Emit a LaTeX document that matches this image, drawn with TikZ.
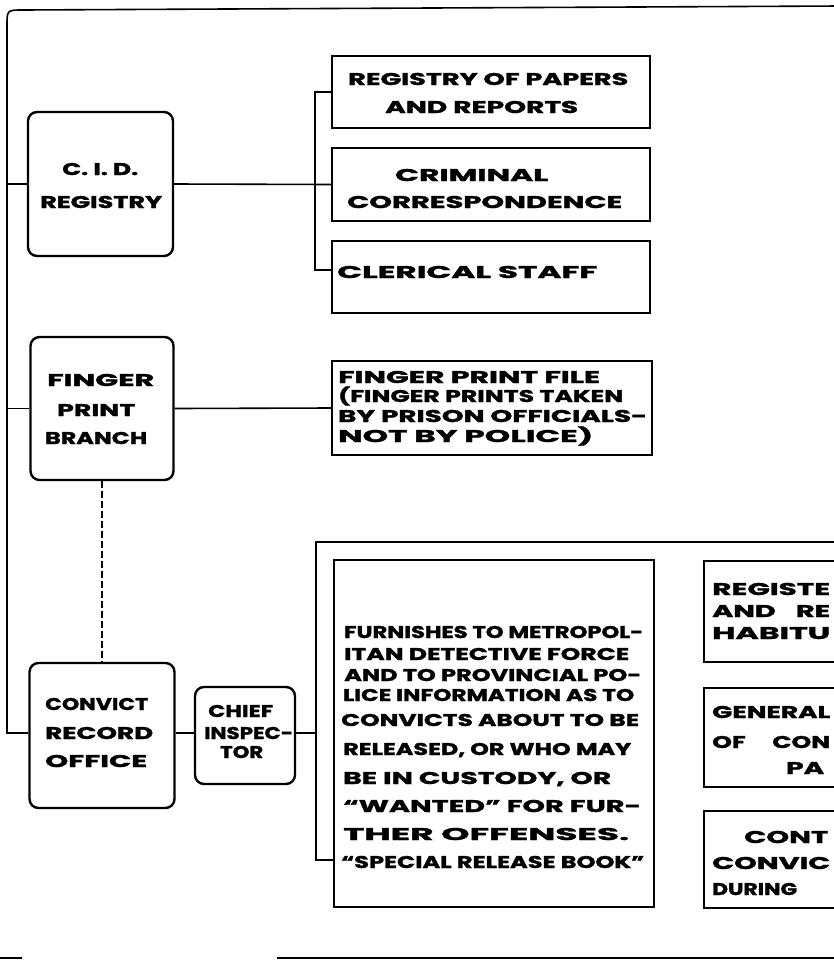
\documentclass[tikz,border=0pt]{standalone}
\usepackage{fontspec}
\setmainfont{Poppins}[BoldFeatures={FakeBold=1.4}]
\usepackage{graphicx}
\newcommand\stretchw[2]{\resizebox{#1pt}{\height}{#2}}
\newcommand\lettf{\bfseries\fontsize{17}{17}\selectfont}
\tikzset{
 rbox/.style={draw, line width=2.4pt, rounded corners=9pt, inner sep=0pt},
 sbox/.style={draw, line width=2pt, inner sep=0pt},
 conn/.style={line width=1.6pt},
 txt/.style={inner sep=0pt, anchor=base west, font=\lettf},
}
\newcommand\tx[5]{\node[txt] (#1) at (#2,#3+6) {\stretchw{#4}{#5}};}
\begin{document}
\begin{tikzpicture}[x=1pt,y=-1pt]
\useasboundingbox (0,0) rectangle (834,967);
\clip (0,0) rectangle (834,967);
\coordinate (L) at (7,0);
\coordinate (B) at (315,0);
\coordinate (F) at (316,542);

% left column boxes
\node[rbox, minimum width=145pt, minimum height=144pt] (cid) at (100.5,184) {};
\node[rbox, minimum width=143pt, minimum height=143pt] (fpb) at (102,408.5) {};
\node[rbox, minimum width=145pt, minimum height=145pt] (cv) at (102,735.5) {};
\node[rbox, minimum width=100pt, minimum height=97pt] (chief) at (245,735.5) {};

% middle column boxes
\node[sbox, minimum width=318pt, minimum height=72pt] (reg) at (491,92) {};
\node[sbox, minimum width=318pt, minimum height=73pt] (crim) at (491,184.5) {};
\node[sbox, minimum width=318pt, minimum height=72pt] (cler) at (491,277) {};
\node[sbox, minimum width=320pt, minimum height=94pt] (fpf) at (492,408) {};
\node[sbox, minimum width=320pt, minimum height=347pt] (furn) at (494,733.5) {};

% right column boxes (cut off at the edge)
\node[sbox, minimum width=160pt, minimum height=101pt, anchor=north west] (rr1) at (703,560) {};
\node[sbox, minimum width=160pt, minimum height=99pt, anchor=north west] (rr2) at (703,687) {};
\node[sbox, minimum width=160pt, minimum height=97pt, anchor=north west] (rr3) at (703,810) {};

% outer frame and left spine
\draw[conn] ([yshift=2.5pt]cv.west) -- ([yshift=2.5pt]cv.west -| L) -- (7,26) .. controls (7,10) .. (23,10) -- (840,6);
\draw[conn] (cid.west) -- (cid.west -| L);
\draw[conn] (fpb.west) -- (fpb.west -| L);

% CID branch
\draw[conn] (cid.east) -- (crim.west);
\draw[conn] (reg.west) -- (reg.west -| B) -- ([yshift=7pt]cler.west -| B) -- ([yshift=7pt]cler.west);

% finger print branch
\draw[conn] (fpb.east) -- (fpf.west);
\draw[conn, dash pattern=on 7pt off 3pt] (fpb.south) -- (cv.north);

% convict record office branch
\draw[conn] ([yshift=2.5pt]cv.east) -- ([yshift=2.5pt]chief.west);
\draw[conn] ([yshift=2.5pt]chief.east) -- ([yshift=2.5pt]chief.east -| F);
\draw[conn] (840,542) -- (F) -- ([yshift=-126.5pt]furn.west -| F) -- ([yshift=-126.5pt]furn.west);

% bottom lines
\draw[conn] (277,958) -- (840,958);
\draw[line width=1.2pt] (0,958) -- (22,958);

% texts
\tx{t01}{62}{169}{76}{C. I. D.}
\tx{t02}{40}{202}{122}{REGISTRY}
\tx{t03}{348}{79}{280}{REGISTRY OF PAPERS}
\tx{t04}{385}{107}{193}{AND REPORTS}
\tx{t05}{395}{175}{153}{CRIMINAL}
\tx{t06}{347}{202}{275}{CORRESPONDENCE}
\tx{t07}{337}{272}{260}{CLERICAL STAFF}

\tx{t08}{47}{380}{107}{FINGER}
\tx{t09}{57}{410}{78}{PRINT}
\tx{t10}{45}{438}{102}{BRANCH}
\tx{t11}{338}{377}{262}{FINGER PRINT FILE}
\tx{t12}{338}{396}{285}{(FINGER PRINTS TAKEN}
\tx{t13}{338}{416}{309}{BY PRISON OFFICIALS-}
\tx{t14}{338}{436}{255}{NOT BY POLICE)}

\tx{t15}{45}{704}{103}{CONVICT}
\tx{t16}{45}{733}{108}{RECORD}
\tx{t17}{45}{761}{102}{OFFICE}
\tx{t18}{208}{711}{65}{CHIEF}
\tx{t19}{204}{733}{89}{INSPEC-}
\tx{t20}{220}{752}{43}{TOR}

\tx{f01}{344}{632}{299}{FURNISHES TO METROPOL-}
\tx{f02}{344}{654}{285}{ITAN DETECTIVE FORCE}
\tx{f03}{344}{675}{297}{AND TO PROVINCIAL PO-}
\tx{f04}{343}{695}{291}{LICE INFORMATION AS TO}
\tx{f05}{341}{720}{298}{CONVICTS ABOUT TO BE}
\tx{f06}{343}{749}{288}{RELEASED, OR WHO MAY}
\tx{f07}{343}{778}{268}{BE IN CUSTODY, OR}
\tx{f08}{343}{806}{298}{“WANTED” FOR FUR-}
\tx{f09}{343}{834}{286}{THER OFFENSES.}
\tx{f10}{341}{862}{303}{“SPECIAL RELEASE BOOK”}

\tx{r01}{712}{589}{118}{REGISTE}
\tx{r02}{712}{611}{118}{AND\hspace{12pt}RE}
\tx{r03}{712}{633}{118}{HABITU}
\tx{r04}{712}{712}{118}{GENERAL}
\tx{r05}{712}{742}{118}{OF\hspace{18pt}CON}
\tx{r06}{786}{768}{38}{PA}
\tx{r07}{744}{837}{84}{CONT}
\tx{r08}{712}{863}{118}{CONVIC}
\tx{r09}{712}{889}{85}{DURING}
\end{tikzpicture}
\end{document}
